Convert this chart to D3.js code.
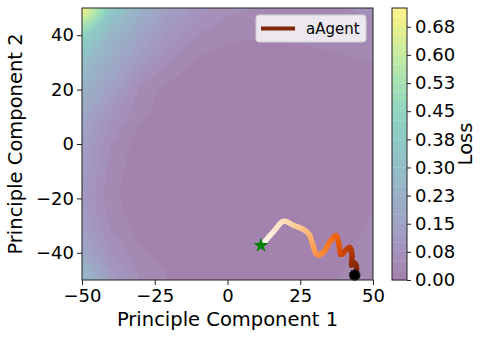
<!DOCTYPE html>
<html>
<head>
<meta charset="utf-8">
<script src="https://cdn.jsdelivr.net/npm/d3@7"></script>
<style>
  body { margin: 0; background: #fff; }
  text { font-family: "DejaVu Sans", sans-serif; fill: #000; }
</style>
</head>
<body>
<div id="viz"></div>
<script>
// grid of the loss surface
var gridX = [-50, -40, -30, -20, -10, 0, 10, 20, 30, 40, 50];
var gridY = [50, 40, 30, 20, 10, 0, -10, -20, -30, -40, -50];
var loss = [
  [0.72, 0.38, 0.22, 0.13, 0.085, 0.06, 0.05, 0.045, 0.045, 0.048, 0.056],
  [0.42, 0.26, 0.16, 0.09, 0.05, 0.03, 0.027, 0.028, 0.032, 0.036, 0.04],
  [0.30, 0.19, 0.11, 0.05, 0.02, 0.015, 0.012, 0.013, 0.016, 0.02, 0.024],
  [0.23, 0.14, 0.045, 0.015, 0.01, 0.008, 0.006, 0.007, 0.01, 0.014, 0.018],
  [0.17, 0.08, 0.03, 0.01, 0.006, 0.005, 0.004, 0.005, 0.007, 0.01, 0.014],
  [0.14, 0.05, 0.012, 0.006, 0.004, 0.003, 0.003, 0.004, 0.006, 0.009, 0.013],
  [0.12, 0.038, 0.009, 0.005, 0.003, 0.003, 0.003, 0.004, 0.006, 0.01, 0.016],
  [0.11, 0.033, 0.008, 0.005, 0.004, 0.003, 0.004, 0.005, 0.008, 0.013, 0.022],
  [0.13, 0.045, 0.014, 0.007, 0.005, 0.004, 0.005, 0.007, 0.01, 0.016, 0.028],
  [0.18, 0.075, 0.03, 0.014, 0.008, 0.006, 0.007, 0.009, 0.013, 0.022, 0.033],
  [0.27, 0.12, 0.05, 0.022, 0.012, 0.009, 0.009, 0.011, 0.016, 0.027, 0.04]
];
var levels = d3.range(30).map(function(i) { return i * 0.025; });
var cbTicks = [0, 0.075, 0.15, 0.225, 0.3, 0.375, 0.45, 0.525, 0.6, 0.675];
var cbLabels = ["0.00", "0.08", "0.15", "0.23", "0.30", "0.38", "0.45", "0.53", "0.60", "0.68"];
var xTicks = [-50, -25, 0, 25, 50];
var yTicks = [-40, -20, 0, 20, 40];

// agent trajectory
var pathX = [12.4, 15.9, 19.3, 22.7, 26.2, 28.1, 29.3, 30.8, 32.7, 35.3, 37.3, 38.2, 39.1, 40.5, 42.0, 42.8, 42.6, 43.4, 44.3, 44.3];
var pathY = [-36.4, -32.1, -28.4, -29.9, -31.5, -33.3, -37.0, -40.7, -40.1, -35.8, -33.7, -36.4, -40.7, -39.2, -38.0, -40.7, -44.6, -43.6, -44.8, -47.0];
var startPt = [11.5, -37.3];
var endPt = [43.7, -48.2];

(function() {
var width = 489, height = 339;
var pLeft = 82, pRight = 373, pTop = 8, pBottom = 280;

var x = d3.scaleLinear().domain([-50, 50]).range([pLeft, pRight]);
var y = d3.scaleLinear().domain([-50, 50]).range([pBottom, pTop]);

var vmax = levels[levels.length - 1];
var bandColor = function(i) {
  var mid = (levels[i] + levels[i + 1]) / 2;
  return d3.interpolateRgb("#ffffff", d3.interpolateViridis(mid / vmax))(0.5);
};

var svg = d3.select("#viz").append("svg")
  .attr("width", width)
  .attr("height", height);

svg.append("clipPath").attr("id", "plotclip")
  .append("rect")
    .attr("x", pLeft).attr("y", pTop)
    .attr("width", pRight - pLeft).attr("height", pBottom - pTop);

// contour bands
var nx = gridX.length, ny = gridY.length;
var flat = [];
loss.forEach(function(row) { row.forEach(function(v) { flat.push(v); }); });

var contours = d3.contours().size([nx, ny]).thresholds(levels.slice(0, -1))(flat);

var dx = gridX[1] - gridX[0], dy = gridY[1] - gridY[0];
var toPx = function(p) {
  return [x(gridX[0] + (p[0] - 0.5) * dx), y(gridY[0] + (p[1] - 0.5) * dy)];
};
var ringLine = d3.line().curve(d3.curveCatmullRomClosed.alpha(0.5));
var bandPath = function(c) {
  var d = "";
  c.coordinates.forEach(function(poly) {
    poly.forEach(function(ring) {
      var r = ring.slice(0, -1).map(toPx);
      if (r.length > 2) d += ringLine(r);
    });
  });
  return d;
};

var cg = svg.append("g").attr("clip-path", "url(#plotclip)");
cg.append("rect")
  .attr("x", pLeft).attr("y", pTop)
  .attr("width", pRight - pLeft).attr("height", pBottom - pTop)
  .attr("fill", bandColor(0));
cg.selectAll("path.band")
  .data(contours)
  .enter()
  .append("path")
    .attr("class", "band")
    .attr("d", bandPath)
    .attr("fill", function(d, i) { return bandColor(i); })
    .attr("stroke", function(d, i) { return d3.color(bandColor(i)).darker(0.05); })
    .attr("stroke-width", 0.4);

// trajectory drawn as a smooth curve, coloured along its length
var pts = pathX.map(function(v, i) { return [x(v), y(pathY[i])]; });
var tmp = svg.append("path")
  .attr("d", d3.line().curve(d3.curveCatmullRom)(pts))
  .attr("fill", "none");
var total = tmp.node().getTotalLength();
var steps = 160;
var samples = d3.range(steps + 1).map(function(i) {
  var p = tmp.node().getPointAtLength(total * i / steps);
  return [p.x, p.y];
});
tmp.remove();

var tg = svg.append("g").attr("clip-path", "url(#plotclip)");
tg.selectAll("line")
  .data(d3.range(steps))
  .enter()
  .append("line")
    .attr("x1", function(i) { return samples[i][0]; })
    .attr("y1", function(i) { return samples[i][1]; })
    .attr("x2", function(i) { return samples[i + 1][0]; })
    .attr("y2", function(i) { return samples[i + 1][1]; })
    .attr("stroke", function(i) { return d3.interpolateOranges(i / (steps - 1)); })
    .attr("stroke-width", 5)
    .attr("stroke-linecap", "round");

// start and end markers
svg.append("path")
  .attr("d", d3.symbol().type(d3.symbolStar).size(70)())
  .attr("transform", "translate(" + x(startPt[0]) + "," + y(startPt[1]) + ")")
  .attr("fill", "#008000");

svg.append("circle")
  .attr("cx", x(endPt[0]))
  .attr("cy", y(endPt[1]))
  .attr("r", 5.2)
  .attr("fill", "#000")
  .attr("stroke", "#000")
  .attr("stroke-width", 1.2)
  .attr("stroke-dasharray", "1.2,0.8");

// frame
svg.append("rect")
  .attr("x", pLeft).attr("y", pTop)
  .attr("width", pRight - pLeft).attr("height", pBottom - pTop)
  .attr("fill", "none")
  .attr("stroke", "#222")
  .attr("stroke-width", 1);

var fmtTick = function(d) { return d < 0 ? "\u2212" + Math.abs(d) : "" + d; };

var xAxis = svg.append("g")
  .attr("transform", "translate(0," + pBottom + ")")
  .call(d3.axisBottom(x).tickValues(xTicks).tickSize(5).tickPadding(4).tickFormat(fmtTick));
var yAxis = svg.append("g")
  .attr("transform", "translate(" + pLeft + ",0)")
  .call(d3.axisLeft(y).tickValues(yTicks).tickSize(5).tickPadding(3).tickFormat(fmtTick));
[xAxis, yAxis].forEach(function(a) {
  a.select(".domain").remove();
  a.selectAll("line").attr("stroke", "#222");
  a.selectAll("text")
    .style("font-family", "DejaVu Sans")
    .style("font-size", "18px")
    .attr("fill", "#000");
});

svg.append("text")
  .attr("x", (pLeft + pRight) / 2)
  .attr("y", 326)
  .attr("text-anchor", "middle")
  .style("font-size", "19.5px")
  .text("Principle Component 1");

svg.append("text")
  .attr("transform", "translate(22," + (pTop + pBottom) / 2 + ") rotate(-90)")
  .attr("text-anchor", "middle")
  .style("font-size", "19.5px")
  .text("Principle Component 2");

// legend
var lg = svg.append("g");
lg.append("rect")
  .attr("x", 256).attr("y", 15)
  .attr("width", 110).attr("height", 27)
  .attr("rx", 3)
  .attr("fill", "#fff").attr("fill-opacity", 0.8)
  .attr("stroke", "#d0d0d0");
lg.append("line")
  .attr("x1", 261).attr("x2", 295)
  .attr("y1", 28.5).attr("y2", 28.5)
  .attr("stroke", "#7f2704")
  .attr("stroke-width", 4);
lg.append("text")
  .attr("x", 306).attr("y", 33.5)
  .style("font-size", "15px")
  .text("aAgent");

// colorbar
var cbLeft = 392, cbRight = 407;
var cy = d3.scaleLinear().domain([0, vmax]).range([pBottom, pTop]);
var cb = svg.append("g");
cb.selectAll("rect.cband")
  .data(d3.range(levels.length - 1))
  .enter()
  .append("rect")
    .attr("class", "cband")
    .attr("x", cbLeft)
    .attr("width", cbRight - cbLeft)
    .attr("y", function(i) { return cy(levels[i + 1]); })
    .attr("height", function(i) { return cy(levels[i]) - cy(levels[i + 1]) + 0.3; })
    .attr("fill", function(i) { return bandColor(i); });
cb.append("rect")
  .attr("x", cbLeft).attr("y", pTop)
  .attr("width", cbRight - cbLeft).attr("height", pBottom - pTop)
  .attr("fill", "none")
  .attr("stroke", "#222")
  .attr("stroke-width", 1);

var cAxis = svg.append("g")
  .attr("transform", "translate(" + cbRight + ",0)")
  .call(d3.axisRight(cy).tickValues(cbTicks).tickSize(4).tickPadding(4)
    .tickFormat(function(d, i) { return cbLabels[i]; }));
cAxis.select(".domain").remove();
cAxis.selectAll("line").attr("stroke", "#222");
cAxis.selectAll("text")
  .style("font-family", "DejaVu Sans")
  .style("font-size", "18px")
  .attr("fill", "#000");

svg.append("text")
  .attr("transform", "translate(472," + (pTop + pBottom) / 2 + ") rotate(-90)")
  .attr("text-anchor", "middle")
  .style("font-size", "19.5px")
  .text("Loss");
})();
</script>
</body>
</html>
